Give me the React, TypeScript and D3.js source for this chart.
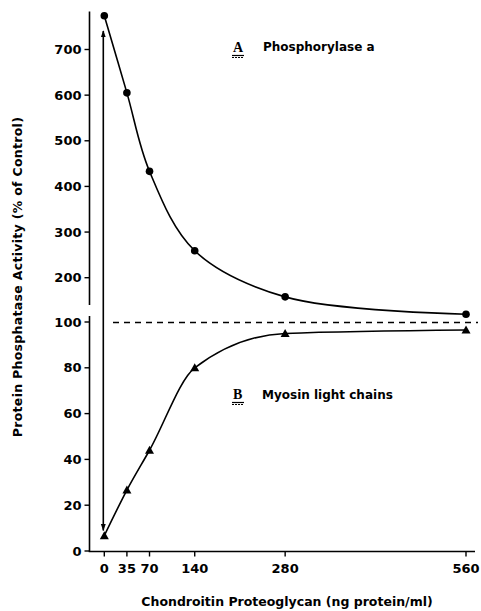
import React from 'react';
import * as d3 from 'd3';

// doses (ng protein/ml)
const doses = [0, 35, 70, 140, 280, 560];
// A: phosphorylase a, % of control (upper scale)
const phosA = [774, 605, 433, 259, 158, 120];
// B: myosin light chains, % of control (lower scale)
const myosinB = [6.7, 26.6, 44, 80, 95, 96.5];

const upperTicks = [200, 300, 400, 500, 600, 700];
const lowerTicks = [0, 20, 40, 60, 80, 100];
const xTicks = [0, 35, 70, 140, 280, 560];

const font = '"DejaVu Sans", "Liberation Sans", sans-serif';

export default function App() {
  const x = d3.scaleLinear().domain([0, 560]).range([104.3, 466]);
  const yUp = d3.scaleLinear().domain([200, 700]).range([277.7, 49.5]);
  const yLo = d3.scaleLinear().domain([0, 100]).range([551, 322]);

  const axisX = 89.5;
  const baseY = 551.5;

  const lineA = d3.line<number>()
    .x((_, i) => x(doses[i]))
    .y(d => yUp(d))
    .curve(d3.curveCatmullRom.alpha(0.5));
  const lineB = d3.line<number>()
    .x((_, i) => x(doses[i]))
    .y(d => yLo(d))
    .curve(d3.curveMonotoneX);

  const tri = (cx: number, cy: number) =>
    `M${cx},${cy - 4.5}L${cx + 4.5},${cy + 3.5}L${cx - 4.5},${cy + 3.5}Z`;

  return (
    <svg width={481} height={611} style={{ position: 'absolute', left: 0, top: 0 }}
      fontFamily={font} fontWeight="bold">
      <defs>
        <marker id="ah" viewBox="0 0 10 10" refX="9" refY="5" markerWidth="7" markerHeight="9"
          orient="auto-start-reverse" markerUnits="userSpaceOnUse">
          <path d="M0,1.5L10,5L0,8.5Z" fill="#000" />
        </marker>
      </defs>

      {/* y axes (broken) */}
      <line x1={axisX} x2={axisX} y1={11.5} y2={305} stroke="#000" strokeWidth={1.6} />
      <line x1={axisX} x2={axisX} y1={316} y2={baseY} stroke="#000" strokeWidth={1.6} />
      {upperTicks.map(t => (
        <g key={'u' + t}>
          <line x1={axisX - 5} x2={axisX} y1={yUp(t)} y2={yUp(t)} stroke="#000" strokeWidth={1.4} />
          <text x={axisX - 8} y={yUp(t)} dy="0.36em" textAnchor="end" fontSize={13}>{t}</text>
        </g>
      ))}
      {lowerTicks.map(t => (
        <g key={'l' + t}>
          <line x1={axisX - 5} x2={axisX} y1={yLo(t)} y2={yLo(t)} stroke="#000" strokeWidth={1.4} />
          <text x={axisX - 8} y={yLo(t)} dy="0.36em" textAnchor="end" fontSize={13}>{t}</text>
        </g>
      ))}

      {/* x axis */}
      <line x1={axisX - 0.8} x2={475} y1={baseY} y2={baseY} stroke="#000" strokeWidth={1.6} />
      {xTicks.map(t => (
        <g key={'x' + t}>
          <line x1={x(t)} x2={x(t)} y1={baseY} y2={baseY + 5} stroke="#000" strokeWidth={1.4} />
          <text x={x(t)} y={568} dy="0.36em" textAnchor="middle" fontSize={13}>{t}</text>
        </g>
      ))}

      {/* titles */}
      <text transform="translate(22,277) rotate(-90)" textAnchor="middle" fontSize={12.5}
        letterSpacing={0.3}>
        Protein Phosphatase Activity (% of Control)
      </text>
      <text x={287} y={606} textAnchor="middle" fontSize={12.5}>
        Chondroitin Proteoglycan (ng protein/ml)
      </text>

      {/* control reference */}
      <line x1={113} x2={478} y1={322.5} y2={322.5} stroke="#000" strokeWidth={1.3}
        strokeDasharray="6,5" />

      {/* double arrow at zero */}
      <line x1={x(0) - 1} x2={x(0) - 1} y1={yUp(745) + 2} y2={yLo(9)} stroke="#000" strokeWidth={1.6}
        markerStart="url(#ah)" markerEnd="url(#ah)" />

      {/* curves */}
      <path d={lineA(phosA) ?? ''} fill="none" stroke="#000" strokeWidth={1.6} />
      <path d={lineB(myosinB) ?? ''} fill="none" stroke="#000" strokeWidth={1.6} />
      {phosA.map((v, i) => (
        <circle key={'a' + i} cx={x(doses[i])} cy={yUp(v)} r={3.8} fill="#000" />
      ))}
      {myosinB.map((v, i) => (
        <path key={'b' + i} d={tri(x(doses[i]), yLo(v))} fill="#000" />
      ))}

      {/* labels */}
      <text x={233} y={52} fontSize={14} fontFamily='"Liberation Serif", serif'>A</text>
      <line x1={232} x2={244} y1={55.5} y2={55.5} stroke="#000" strokeWidth={1.2} />
      <line x1={232} x2={244} y1={57.5} y2={57.5} stroke="#000" strokeWidth={1} strokeDasharray="2,1" />
      <text x={263} y={51} fontSize={12}>Phosphorylase a</text>

      <text x={233} y={399} fontSize={14} fontFamily='"Liberation Serif", serif'>B</text>
      <line x1={232} x2={244} y1={402.5} y2={402.5} stroke="#000" strokeWidth={1.2} />
      <line x1={232} x2={244} y1={404.5} y2={404.5} stroke="#000" strokeWidth={1} strokeDasharray="2,1" />
      <text x={262} y={399} fontSize={12}>Myosin light chains</text>
    </svg>
  );
}
